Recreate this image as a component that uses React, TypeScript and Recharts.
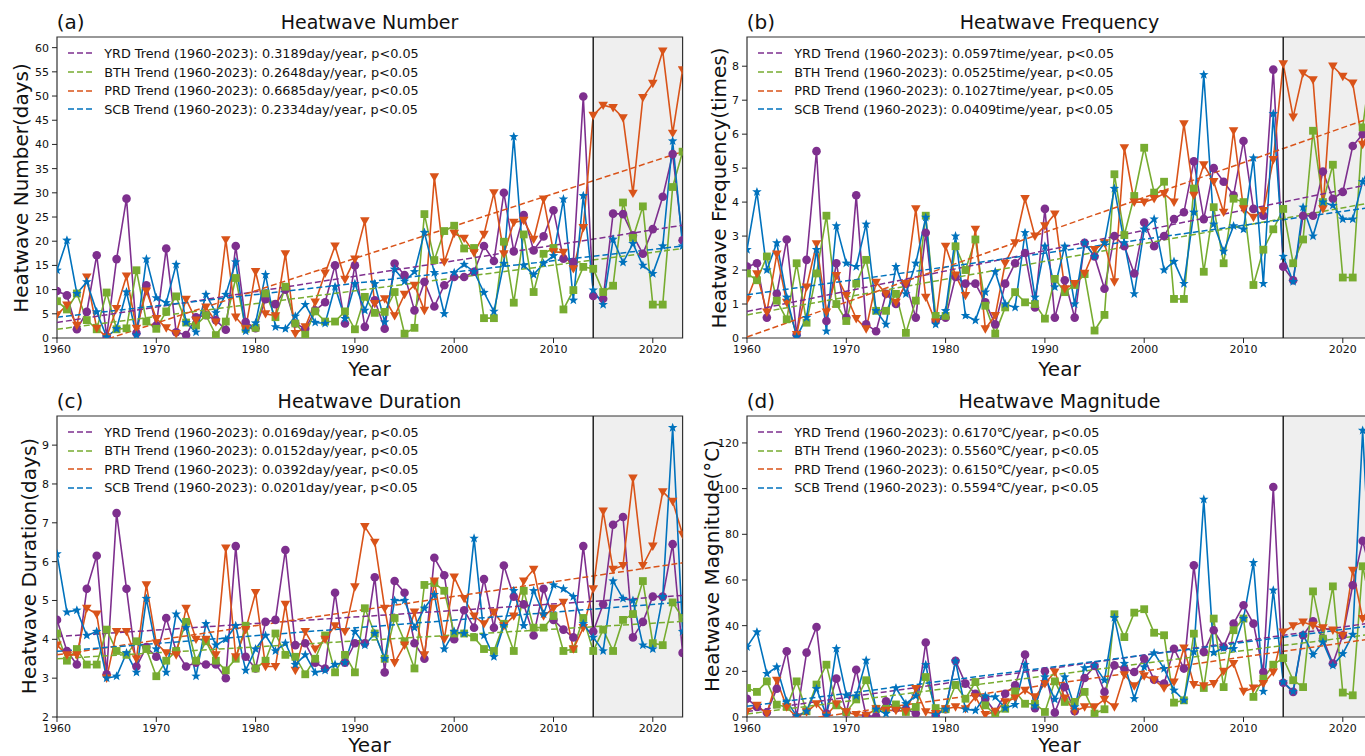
import React from "react";
import { LineChart, Line, XAxis, YAxis, ReferenceArea, ReferenceLine } from "recharts";

const years = [
  1960, 1961, 1962, 1963, 1964, 1965, 1966, 1967, 1968, 1969,
  1970, 1971, 1972, 1973, 1974, 1975, 1976, 1977, 1978, 1979,
  1980, 1981, 1982, 1983, 1984, 1985, 1986, 1987, 1988, 1989,
  1990, 1991, 1992, 1993, 1994, 1995, 1996, 1997, 1998, 1999,
  2000, 2001, 2002, 2003, 2004, 2005, 2006, 2007, 2008, 2009,
  2010, 2011, 2012, 2013, 2014, 2015, 2016, 2017, 2018, 2019,
  2020, 2021, 2022, 2023,
];
const xTicks = [1960, 1970, 1980, 1990, 2000, 2010, 2020];

const regions = ["YRD", "BTH", "PRD", "SCB"];
const regionColors = ["#7E2F8E", "#77AC30", "#D95319", "#0072BD"];
const regionShapes = ["circle", "square", "triangle", "star"];

// (a) heatwave number, days
const numYRD = [
  9.7, 8.8, 1.8, 5.4, 17.1, 0.3, 16.3, 28.8, 1.0, 10.9,
  2.6, 18.5, 1.2, 0.6, 4.3, 4.7, 3.7, 1.7, 19.0, 3.3,
  2.0, 8.0, 7.0, 10.0, 3.0, 1.9, 5.7, 7.4, 15.0, 3.0,
  15.0, 2.3, 7.8, 1.9, 15.4, 13.0, 5.7, 11.6, 6.5, 10.9,
  12.6, 12.6, 13.7, 19.0, 15.9, 30.0, 17.9, 25.4, 18.1, 21.0,
  26.4, 16.4, 15.7, 49.9, 8.7, 8.1, 25.7, 25.6, 21.2, 17.4,
  22.5, 29.2, 38.0, 20.2,
];
const numBTH = [
  7.6, 5.9, 9.2, 3.7, 1.8, 9.4, 1.8, 2.0, 14.0, 3.4,
  1.9, 5.5, 8.6, 3.2, 2.6, 4.7, 0.6, 3.4, 12.4, 1.9,
  2.1, 9.2, 4.3, 10.6, 3.0, 0.7, 5.5, 3.4, 3.4, 5.5,
  1.8, 8.5, 5.2, 5.4, 9.5, 0.9, 2.1, 25.6, 16.1, 22.1,
  23.2, 18.5, 18.6, 4.1, 4.1, 19.9, 7.3, 21.4, 9.5, 17.4,
  18.6, 5.9, 9.9, 14.7, 14.3, 9.5, 10.8, 28.0, 20.7, 27.2,
  6.9, 6.9, 31.2, 38.5,
];
const numPRD = [
  4.8, 6.8, 2.6, 12.6, 2.0, 0.2, 6.1, 12.8, 2.0, 9.7,
  4.0, 2.1, 0.9, 8.0, 3.7, 6.4, 3.3, 20.3, 4.3, 1.9,
  13.7, 5.0, 4.6, 17.4, 0.9, 2.3, 7.4, 13.4, 19.0, 12.1,
  16.3, 24.2, 7.1, 8.1, 4.6, 9.0, 10.9, 5.7, 33.3, 15.7,
  21.6, 20.6, 17.6, 21.4, 30.0, 17.4, 23.9, 24.3, 20.4, 28.7,
  17.8, 17.7, 14.3, 22.8, 46.0, 48.1, 47.6, 45.5, 29.9, 49.7,
  52.6, 59.3, 42.3, 55.4,
];
const numSCB = [
  14.0, 20.2, 9.2, 11.6, 5.4, 0.2, 1.9, 9.5, 0.6, 16.3,
  8.3, 7.3, 15.2, 3.2, 1.2, 9.0, 5.2, 9.0, 15.7, 1.4,
  3.1, 13.1, 2.3, 1.9, 4.5, 6.9, 3.2, 3.0, 10.6, 4.0,
  11.2, 5.7, 11.2, 3.3, 14.2, 11.7, 13.7, 21.8, 13.5, 5.0,
  13.5, 15.2, 13.7, 9.4, 5.5, 15.4, 41.6, 15.0, 13.1, 15.4,
  17.0, 28.7, 7.8, 29.4, 9.9, 6.9, 20.4, 15.6, 19.5, 15.0,
  13.3, 19.0, 40.7, 19.0,
];
const numTrendStart = [3.2, 1.8, -3.6, 4.3];
const numTrendEnd = [23.3, 18.5, 38.5, 19.0];
const numSlopes = ["0.3189", "0.2648", "0.6685", "0.2334"];
const numTicks = [0, 5, 10, 15, 20, 25, 30, 35, 40, 45, 50, 55, 60];

// (b) heatwave frequency, times
const freqYRD = [
  2.1, 2.2, 0.6, 1.3, 2.9, 0.1, 2.3, 5.5, 0.5, 2.2,
  0.6, 4.2, 0.4, 0.2, 1.3, 1.0, 1.6, 0.6, 3.1, 0.5,
  0.6, 1.8, 1.6, 1.6, 1.05, 0.4, 1.6, 2.2, 2.5, 0.9,
  3.8, 0.6, 1.7, 0.6, 2.8, 2.4, 1.45, 3.0, 2.7, 1.9,
  3.4, 2.7, 3.0, 3.5, 3.7, 5.2, 3.5, 5.0, 4.6, 4.2,
  5.8, 3.8, 3.6, 7.9, 2.1, 1.7, 3.6, 3.6, 4.9, 4.1,
  4.3, 5.65, 6.0, 6.4,
];
const freqBTH = [
  1.9, 1.7, 2.4, 1.1, 0.55, 2.2, 0.45, 1.9, 3.6, 1.0,
  0.5, 1.6, 2.3, 0.8, 0.8, 1.3, 0.15, 1.1, 3.6, 0.65,
  0.65, 2.7, 2.0, 2.9, 0.95, 0.13, 0.9, 1.35, 1.05, 1.0,
  0.57, 1.74, 1.35, 1.56, 1.88, 0.22, 0.68, 4.82, 3.03, 4.18,
  5.6, 4.28, 4.6, 1.15, 1.15, 4.4, 1.95, 3.85, 2.2, 4.1,
  4.0, 1.56, 2.6, 3.2, 3.8, 2.2, 2.9, 6.1, 4.0, 5.1,
  1.78, 1.78, 6.2, 8.4,
];
const freqPRD = [
  1.13, 1.89, 0.76, 2.47, 1.05, 0.1, 1.5, 2.77, 0.76, 1.84,
  1.25, 0.57, 0.27, 1.64, 1.3, 1.05, 1.6, 3.8, 1.2, 0.47,
  2.7, 1.85, 1.25, 3.2, 0.27, 0.66, 2.2, 2.8, 4.1, 3.0,
  3.3, 3.65, 1.45, 1.6, 1.9, 2.6, 2.8, 1.65, 5.6, 4.0,
  4.0, 4.1, 4.25, 4.0, 6.3, 4.2, 5.1, 4.6, 3.7, 6.1,
  3.8, 3.55, 3.75, 5.25, 8.07, 6.5, 7.8, 7.6, 3.8, 8.0,
  7.7, 7.5, 5.7, 6.3,
];
const freqSCB = [
  2.6, 4.3, 2.0, 2.8, 1.2, 0.03, 0.6, 2.6, 0.2, 3.3,
  2.2, 2.1, 3.35, 0.8, 0.4, 2.1, 1.3, 2.2, 3.55, 0.4,
  0.8, 3.0, 0.66, 0.52, 1.35, 1.95, 1.0, 0.9, 3.1, 1.2,
  2.7, 1.5, 2.7, 1.0, 2.8, 2.4, 2.8, 4.4, 2.8, 1.3,
  3.2, 3.5, 2.0, 2.25, 1.6, 3.7, 7.75, 3.35, 2.55, 3.3,
  3.2, 5.3, 1.6, 6.6, 2.4, 1.66, 3.85, 3.0, 4.0, 3.9,
  3.5, 3.5, 4.6, 5.2,
];
const freqTrendStart = [0.78, 0.68, 0.03, 1.27];
const freqTrendEnd = [4.54, 3.99, 6.5, 3.85];
const freqSlopes = ["0.0597", "0.0525", "0.1027", "0.0409"];
const freqTicks = [0, 1, 2, 3, 4, 5, 6, 7, 8];

// (c) heatwave duration, days
const durYRD = [
  4.5, 3.7, 3.35, 5.3, 6.15, 3.1, 7.25, 5.3, 3.3, 3.8,
  3.55, 4.55, 3.7, 3.3, 3.4, 3.35, 3.35, 3.0, 6.4, 3.55,
  3.25, 4.45, 4.5, 6.3, 3.85, 3.9, 3.4, 3.25, 5.2, 3.4,
  3.9, 3.9, 5.6, 3.15, 5.5, 5.2, 3.9, 3.5, 6.1, 5.65,
  4.0, 4.75, 4.3, 5.55, 4.3, 5.9, 5.1, 4.9, 4.1, 5.3,
  4.5, 4.25, 4.05, 6.4, 4.2, 4.9, 6.95, 7.15, 4.05, 4.45,
  5.1, 5.1, 6.45, 3.65,
];
const durBTH = [
  4.15, 3.45, 3.75, 3.35, 3.35, 4.25, 3.7, 3.6, 3.95, 3.75,
  3.05, 3.45, 3.7, 4.45, 3.45, 3.95, 3.45, 3.2, 3.5, 4.35,
  3.25, 3.45, 4.15, 3.6, 3.55, 3.1, 3.5, 4.1, 3.15, 3.6,
  3.15, 4.8, 4.15, 3.5, 4.55, 3.95, 3.25, 5.4, 5.45, 5.25,
  4.15, 4.15, 4.05, 3.75, 3.7, 4.4, 3.7, 5.25, 4.3, 4.3,
  4.6, 3.7, 3.75, 4.55, 3.7, 4.25, 3.7, 4.5, 4.65, 5.5,
  3.9, 3.85, 4.95, 4.55,
];
const durPRD = [
  3.85, 3.6, 3.6, 4.8, 4.65, 3.0, 4.2, 4.2, 3.5, 5.4,
  3.9, 3.65, 3.6, 4.8, 4.0, 4.0, 3.6, 6.35, 3.55, 4.25,
  5.2, 3.3, 3.3, 4.9, 3.2, 4.2, 3.75, 4.0, 4.35, 4.2,
  5.35, 6.9, 6.5, 4.8, 3.4, 3.85, 4.7, 3.6, 5.5, 4.0,
  5.6, 5.05, 4.6, 4.4, 4.7, 4.35, 4.6, 5.5, 5.8, 4.6,
  4.8, 4.95, 3.75, 4.3, 5.3, 7.3, 5.8, 5.9, 8.15, 5.9,
  6.4, 7.8, 7.55, 6.7,
];
const durSCB = [
  6.2, 4.7, 4.75, 4.1, 4.2, 3.0, 3.05, 3.65, 3.15, 5.05,
  3.75, 3.15, 4.65, 4.3, 3.05, 4.4, 3.85, 4.0, 4.35, 3.2,
  3.75, 4.1, 3.7, 3.9, 3.35, 3.6, 3.15, 3.2, 3.35, 3.4,
  4.2, 3.85, 4.15, 3.5, 5.0, 5.0, 4.3, 4.8, 5.15, 3.75,
  4.2, 4.15, 6.6, 4.1, 3.55, 4.35, 5.25, 4.35, 5.25, 4.65,
  5.4, 5.3, 5.1, 4.4, 4.05, 3.7, 5.5, 5.05, 5.0, 3.85,
  3.75, 5.1, 9.45, 4.2,
];
const durTrendStart = [4.07, 3.5, 3.6, 3.69];
const durTrendEnd = [5.13, 4.46, 5.97, 4.96];
const durSlopes = ["0.0169", "0.0152", "0.0392", "0.0201"];
const durTicks = [2, 3, 4, 5, 6, 7, 8, 9];

// (d) heatwave magnitude, degC
const magYRD = [
  8, 4.4, 2, 12.4, 28.8, 0, 28.2, 39.4, 1.5, 16.8,
  2, 20.7, 0.5, 0.3, 6.9, 3.9, 3.6, 1.5, 32.6, 0.7,
  3.4, 24.6, 14.6, 10.2, 8, 2.2, 10.2, 13.9, 27.3, 3.9,
  20, 1.9, 13.1, 2.5, 17.1, 22.3, 11, 22.6, 21.2, 19.7,
  25.5, 16.3, 14.6, 29.9, 21.2, 66.4, 28.5, 38, 30.7, 40.9,
  48.9, 40.9, 19.7, 100.7, 15, 11, 35.8, 41.9, 34.3, 23.4,
  35.8, 57.7, 77.1, 60,
];
const magBTH = [
  12.7, 11, 15.6, 5.4, 4.4, 15.6, 2.5, 14.2, 22.9, 5.1,
  2.2, 7.7, 16.1, 3.6, 3.6, 5.5, 2.2, 4.4, 17.5, 3.9,
  3.4, 14.0, 8, 15.3, 5.1, 1, 3.6, 11.2, 5.8, 5.8,
  2.2, 15.6, 6.6, 6.6, 11, 1.5, 3.4, 45, 35, 45.7,
  47.2, 36.9, 35.8, 6.3, 7.3, 36.5, 12.7, 43.1, 13.1, 38,
  43.1, 8.8, 16.8, 22.9, 25.8, 16.1, 13.1, 55, 34.3, 57.2,
  10.7, 9.5, 66, 45,
];
const magPRD = [
  2.5, 5.1, 1.5, 16.1, 4.4, 0, 2.2, 5.8, 0.7, 5.8,
  2.2, 1, 0.7, 3.6, 2.9, 2.9, 2.5, 12.4, 2.2, 1.5,
  3.6, 4.4, 3.6, 8.8, 1, 2.5, 6.6, 8.3, 11.7, 8.8,
  14.6, 19.7, 8.3, 2.5, 4.4, 4.4, 7.7, 4.4, 18.5, 13.6,
  18, 16.3, 12.7, 15.3, 30.2, 14.2, 13.6, 14.6, 20, 23.4,
  11.2, 12.7, 14.6, 19.7, 37.2, 39.9, 41.6, 40.1, 39, 38,
  35.8, 64.2, 43.1, 50,
];
const magSCB = [
  30.7, 37.2, 19, 21.9, 6.9, 0.5, 2.5, 12.4, 0.7, 29.9,
  9.5, 9.2, 24.8, 3.4, 1.5, 12.7, 5.8, 9.2, 22.9, 1,
  3.4, 24.4, 3.4, 2.9, 9.2, 8.8, 3.9, 5.4, 22.9, 4.8,
  17.5, 7.7, 17.5, 4.4, 21.5, 22.6, 16.1, 43.5, 23.4, 8,
  21.9, 28, 21.2, 11.7, 7.3, 28.5, 95.3, 28.2, 30.2, 29.9,
  43.1, 67.6, 11.2, 55.5, 15.3, 11.2, 36.1, 27.3, 32.8, 22.6,
  27.7, 36.1, 125.5, 40,
];
const magTrendStart = [2.4, 1.3, -4.5, 4.7];
const magTrendEnd = [41.3, 36.3, 34.3, 40.0];
const magSlopes = ["0.6170", "0.5560", "0.6150", "0.5594"];
const magTicks = [0, 20, 40, 60, 80, 100, 120];

const PLOT_W = 625.6;
const PLOT_H = 301;
const PAD_L = 60;
const PAD_T = 10;

function markerRenderer(shape: string, color: string) {
  return (p: any) => {
    const { cx, cy, index } = p;
    const k = `${shape}-${index}`;
    if (cx == null || cy == null) return <g key={k} />;
    if (shape === "circle") return <circle key={k} cx={cx} cy={cy} r={4.3} fill={color} />;
    if (shape === "square")
      return <rect key={k} x={cx - 3.9} y={cy - 3.9} width={7.8} height={7.8} fill={color} />;
    if (shape === "triangle")
      return (
        <polygon
          key={k}
          points={`${cx - 4.8},${cy - 3.6} ${cx + 4.8},${cy - 3.6} ${cx},${cy + 4.8}`}
          fill={color}
        />
      );
    const pts: string[] = [];
    for (let j = 0; j < 10; j++) {
      const r = j % 2 === 0 ? 5 : 2.1;
      const a = -Math.PI / 2 + (j * Math.PI) / 5;
      pts.push(`${cx + r * Math.cos(a)},${cy + r * Math.sin(a)}`);
    }
    return <polygon key={k} points={pts.join(" ")} fill={color} />;
  };
}

interface PanelProps {
  left: number;
  top: number;
  letter: string;
  title: string;
  yLabel: string;
  yLabelX: number;
  series: number[][];
  trendStart: number[];
  trendEnd: number[];
  slopes: string[];
  unit: string;
  yDomain: [number, number];
  yTicks: number[];
}

function Panel(props: PanelProps) {
  const { left, top, letter, title, yLabel, yLabelX, series, trendStart, trendEnd, slopes, unit, yDomain, yTicks } = props;
  const rows = years.map((year, i) => {
    const row: any = { year };
    regions.forEach((r, k) => {
      row[r] = series[k][i];
      if (i === 0) row[r + "_t"] = trendStart[k];
      if (i === years.length - 1) row[r + "_t"] = trendEnd[k];
    });
    return row;
  });
  const yearTop = Math.min(top + PLOT_H + 21, 735);

  return (
    <>
      <div style={{ position: "absolute", left: left - PAD_L, top: top - PAD_T }}>
        <LineChart
          width={PAD_L + PLOT_W + 10}
          height={PAD_T + PLOT_H + 40}
          data={rows}
          margin={{ top: PAD_T, right: 10, left: 0, bottom: 0 }}
        >
          <XAxis
            dataKey="year"
            type="number"
            domain={[1960, 2023]}
            ticks={xTicks}
            allowDataOverflow
            height={40}
            axisLine={false}
            tickSize={5}
            tickMargin={2}
            tickLine={{ stroke: "#222" }}
            tick={{ fontSize: 11, fill: "#111" }}
          />
          <YAxis
            type="number"
            domain={yDomain}
            ticks={yTicks}
            allowDataOverflow
            width={PAD_L}
            axisLine={false}
            tickSize={5}
            tickMargin={3}
            tickLine={{ stroke: "#222" }}
            tick={{ fontSize: 11, fill: "#111" }}
          />
          <ReferenceArea x1={2014} x2={2023} fill="#efefef" fillOpacity={1} stroke="none" />
          {regions.map((r, k) => (
            <Line
              key={r}
              dataKey={r}
              stroke={regionColors[k]}
              strokeWidth={1.6}
              dot={markerRenderer(regionShapes[k], regionColors[k])}
              activeDot={false}
              isAnimationActive={false}
            />
          ))}
          {regions.map((r, k) => (
            <Line
              key={r + "_t"}
              dataKey={r + "_t"}
              stroke={regionColors[k]}
              strokeWidth={1.5}
              strokeDasharray="6 3"
              connectNulls
              dot={false}
              activeDot={false}
              isAnimationActive={false}
            />
          ))}
          <ReferenceLine x={2014} stroke="#222" strokeWidth={1.5} />
          <ReferenceArea x1={1960} x2={2023} fill="none" stroke="#333" strokeWidth={1.2} />
        </LineChart>
      </div>

      <div style={{ position: "absolute", left: left, top: top - 28, fontSize: 20, lineHeight: "26px", color: "#111" }}>
        {letter}
      </div>
      <div
        style={{
          position: "absolute",
          left: left,
          width: PLOT_W,
          top: top - 28,
          textAlign: "center",
          fontSize: 19,
          lineHeight: "26px",
          color: "#111",
        }}
      >
        {title}
      </div>
      <div
        style={{
          position: "absolute",
          left: left,
          width: PLOT_W,
          top: yearTop,
          textAlign: "center",
          fontSize: 20,
          lineHeight: "20px",
          color: "#111",
        }}
      >
        Year
      </div>
      <div
        style={{
          position: "absolute",
          left: yLabelX - 200,
          width: 400,
          top: top + PLOT_H / 2 - 13,
          textAlign: "center",
          fontSize: 20,
          lineHeight: "26px",
          color: "#111",
          transform: "rotate(-90deg)",
          whiteSpace: "nowrap",
        }}
      >
        {yLabel}
      </div>

      {regions.map((r, k) => (
        <div
          key={r + "-leg"}
          style={{
            position: "absolute",
            left: left + 11.5,
            top: top + 16.4 + 18.6 * k - 8,
            height: 16,
            display: "flex",
            alignItems: "center",
            whiteSpace: "nowrap",
            fontSize: 12.8,
            color: "#111",
          }}
        >
          <svg width={25} height={4} style={{ marginRight: 11 }}>
            <line x1={0} y1={2} x2={25} y2={2} stroke={regionColors[k]} strokeWidth={1.5} strokeDasharray="6 3" />
          </svg>
          <span>{`${r} Trend (1960-2023): ${slopes[k]}${unit}, p<0.05`}</span>
        </div>
      ))}
    </>
  );
}

export default function App() {
  return (
    <div
      style={{
        position: "fixed",
        left: 0,
        top: 0,
        width: 1365,
        height: 756,
        overflow: "hidden",
        background: "#fff",
        fontFamily: "'DejaVu Sans', sans-serif",
      }}
    >
      <Panel
        left={56.7}
        top={37}
        letter="(a)"
        title="Heatwave Number"
        yLabel="Heatwave Number(days)"
        yLabelX={21}
        series={[numYRD, numBTH, numPRD, numSCB]}
        trendStart={numTrendStart}
        trendEnd={numTrendEnd}
        slopes={numSlopes}
        unit="day/year"
        yDomain={[0, 62.2]}
        yTicks={numTicks}
      />
      <Panel
        left={746.7}
        top={37}
        letter="(b)"
        title="Heatwave Frequency"
        yLabel="Heatwave Frequency(times)"
        yLabelX={719}
        series={[freqYRD, freqBTH, freqPRD, freqSCB]}
        trendStart={freqTrendStart}
        trendEnd={freqTrendEnd}
        slopes={freqSlopes}
        unit="time/year"
        yDomain={[0, 8.86]}
        yTicks={freqTicks}
      />
      <Panel
        left={56.7}
        top={415.7}
        letter="(c)"
        title="Heatwave Duration"
        yLabel="Heatwave Duration(days)"
        yLabelX={29}
        series={[durYRD, durBTH, durPRD, durSCB]}
        trendStart={durTrendStart}
        trendEnd={durTrendEnd}
        slopes={durSlopes}
        unit="day/year"
        yDomain={[2, 9.75]}
        yTicks={durTicks}
      />
      <Panel
        left={746.7}
        top={415.7}
        letter="(d)"
        title="Heatwave Magnitude"
        yLabel="Heatwave Magnitude(°C)"
        yLabelX={712}
        series={[magYRD, magBTH, magPRD, magSCB]}
        trendStart={magTrendStart}
        trendEnd={magTrendEnd}
        slopes={magSlopes}
        unit="℃/year"
        yDomain={[0, 131.8]}
        yTicks={magTicks}
      />
    </div>
  );
}
